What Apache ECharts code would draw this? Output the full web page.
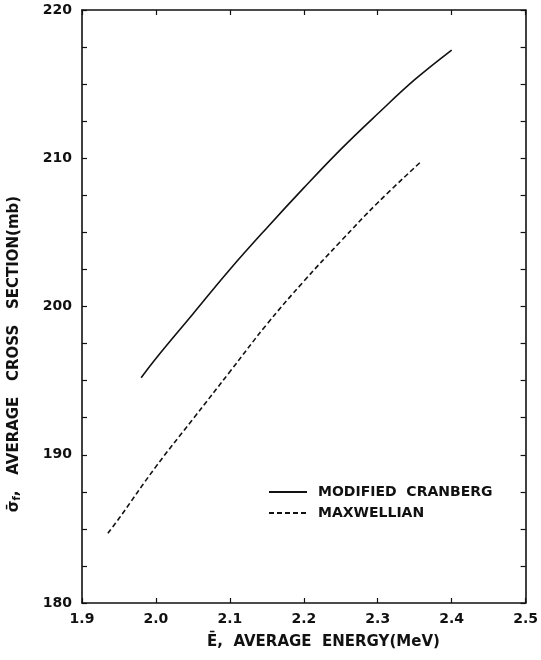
<!DOCTYPE html>
<html>
<head>
<meta charset="utf-8">
<script src="https://cdn.jsdelivr.net/npm/echarts@6/dist/echarts.min.js"></script>
<style>
html,body{margin:0;padding:0;background:#fff;}
#chart{width:541px;height:660px;}
</style>
</head>
<body>
<div id="chart"></div>
<script>
// ---- data ----
const cranbergX = [1.98, 2.00, 2.05, 2.10, 2.15, 2.20, 2.25, 2.30, 2.35, 2.40];
const cranbergY = [195.2, 196.5, 199.5, 202.5, 205.3, 208.0, 210.6, 213.0, 215.3, 217.3];
const maxwellX = [1.935, 1.95, 2.00, 2.05, 2.10, 2.15, 2.20, 2.25, 2.30, 2.357];
const maxwellY = [184.7, 185.7, 189.2, 192.4, 195.6, 198.8, 201.7, 204.4, 207.0, 209.7];
const seriesNames = ['MODIFIED  CRANBERG', 'MAXWELLIAN'];
const xTitle = 'Ē,  AVERAGE  ENERGY(MeV)';
const yTitleRest = ',   AVERAGE   CROSS   SECTION(mb)';

const FONT = 'DejaVu Sans';
const ink = '#111';

function pairs(xs, ys){ return xs.map((x,i)=>[x, ys[i]]); }

const chart = echarts.init(document.getElementById('chart'), null, {renderer:'canvas'});

const axisLine = {show:true, lineStyle:{color:ink, width:1.6}};
const tickIn = {show:true, inside:true, length:5, lineStyle:{color:ink, width:1.2}};

chart.setOption({
  backgroundColor:'#fff',
  animation:false,
  grid:{left:82, right:13, top:10, bottom:57, containLabel:false},
  legend:{
    orient:'vertical',
    left:268, top:485, padding:0,
    itemWidth:38, itemHeight:10, itemGap:7,
    itemStyle:{opacity:0},
    textStyle:{fontFamily:FONT, fontSize:14, fontWeight:'bold', color:ink, padding:[0,0,0,6]},
    data:seriesNames
  },
  xAxis:[
    {type:'value', min:1.9, max:2.5, interval:0.1, position:'bottom',
     axisLine:axisLine, axisTick:tickIn, splitLine:{show:false},
     axisLabel:{fontFamily:FONT, fontSize:14, fontWeight:'bold', color:ink, margin:9,
       formatter:v=>v.toFixed(1)}},
    {type:'value', min:1.9, max:2.5, interval:0.1, position:'top',
     axisLine:axisLine, axisTick:tickIn, splitLine:{show:false}, axisLabel:{show:false}}
  ],
  yAxis:[
    {type:'value', min:180, max:220, interval:2.5, position:'left',
     axisLine:axisLine, axisTick:tickIn, splitLine:{show:false},
     axisLabel:{fontFamily:FONT, fontSize:14, fontWeight:'bold', color:ink, margin:10,
       formatter:v=> (Math.abs(v % 10) < 1e-6 ? String(v) : '')}},
    {type:'value', min:180, max:220, interval:2.5, position:'right',
     axisLine:axisLine, axisTick:tickIn, splitLine:{show:false}, axisLabel:{show:false}}
  ],
  graphic:[
    {type:'text', left:207, top:635,
     style:{text:xTitle, fontFamily:FONT, fontSize:15, fontWeight:'bold', fill:ink}},
    {type:'text', x:14, y:354, rotation:Math.PI/2,
     style:{
       text:'{a|σ̄}{b|f}{a|' + yTitleRest + '}',
       align:'center', verticalAlign:'middle',
       rich:{
         a:{fontFamily:FONT, fontSize:15, fontWeight:'bold', fill:ink},
         b:{fontFamily:FONT, fontSize:10, fontWeight:'bold', fill:ink, verticalAlign:'bottom', padding:[7,0,0,0]}
       }
     }}
  ],
  series:[
    {name:seriesNames[0], type:'line', xAxisIndex:0, yAxisIndex:0,
     data:pairs(cranbergX, cranbergY), symbol:'none', smooth:0.4,
     lineStyle:{color:ink, width:1.6, type:'solid'}, itemStyle:{color:ink}},
    {name:seriesNames[1], type:'line', xAxisIndex:0, yAxisIndex:0,
     data:pairs(maxwellX, maxwellY), symbol:'none', smooth:0.4,
     lineStyle:{color:ink, width:1.6, type:[5,3]}, itemStyle:{color:ink}}
  ]
});
</script>
</body>
</html>
